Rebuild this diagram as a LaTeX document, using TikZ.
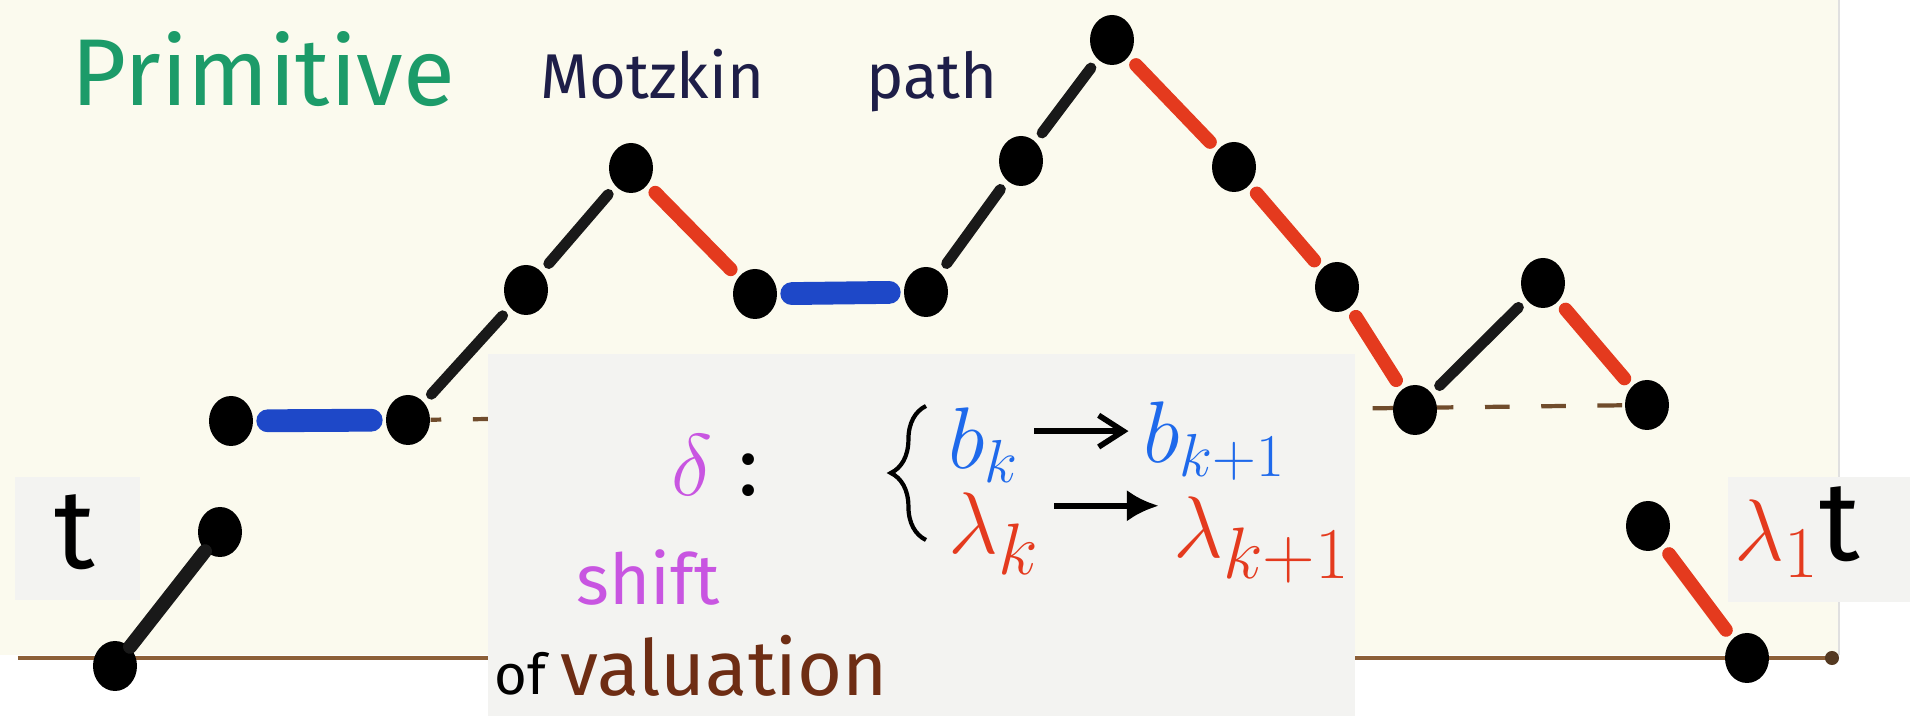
\documentclass[tikz,border=0pt]{standalone}
\usepackage{fontspec}
\setmainfont{Fira Sans}
\usepackage{amsmath}
\usetikzlibrary{arrows.meta,shapes.geometric,decorations.pathreplacing}
\pgfdeclarelayer{background}
\pgfsetlayers{background,main}
\definecolor{paper}{RGB}{251,250,238}
\definecolor{insetgray}{RGB}{243,243,241}
\definecolor{titlegreen}{RGB}{28,155,105}
\definecolor{inknavy}{RGB}{30,30,72}
\definecolor{inkred}{RGB}{228,58,30}
\definecolor{inkblue}{RGB}{30,72,200}
\definecolor{bblue}{RGB}{30,105,235}
\definecolor{inkviolet}{RGB}{200,85,225}
\definecolor{inkbrown}{RGB}{110,45,20}
\definecolor{groundbrown}{RGB}{140,95,55}

\begin{document}
\begin{tikzpicture}[
    pathdot/.style={ellipse, fill=black, inner sep=0pt,
                minimum width=0.44cm, minimum height=0.5cm},
    upstep/.style={draw=black!90, line width=3.1pt, line cap=round,
                shorten >=3pt, shorten <=3pt},
    downstep/.style={draw=inkred, line width=3.9pt, line cap=round,
                shorten >=3pt, shorten <=3pt},
    levelstep/.style={draw=inkblue, line width=6.5pt, line cap=round,
                shorten >=4pt, shorten <=4pt},
    hand/.style={inner sep=1pt},
    shiftarrow/.style={line width=1.6pt, shorten >=3pt, shorten <=3pt}
]
\useasboundingbox (0,0) rectangle (19.1,7.16);

% First and last steps
\node[pathdot] (q0) at (1.15,0.50) {};
\node[pathdot] (q1) at (2.20,1.84) {};
\node[pathdot] (q2) at (16.48,1.90) {};
\node[pathdot] (q3) at (17.47,0.58) {};

% Motzkin path
\node[pathdot] (p1)  at (2.31,2.95) {};
\node[pathdot] (p2)  at (4.08,2.96) {};
\node[pathdot] (p3)  at (5.26,4.26) {};
\node[pathdot] (p4)  at (6.31,5.48) {};
\node[pathdot] (p5)  at (7.55,4.22) {};
\node[pathdot] (p6)  at (9.26,4.24) {};
\node[pathdot] (p7)  at (10.21,5.55) {};
\node[pathdot] (p8)  at (11.12,6.76) {};
\node[pathdot] (p9)  at (12.34,5.49) {};
\node[pathdot] (p10) at (13.37,4.29) {};
\node[pathdot] (p11) at (14.15,3.06) {};
\node[pathdot] (p12) at (15.43,4.33) {};
\node[pathdot] (p13) at (16.47,3.11) {};

\begin{pgfonlayer}{background}
% Paper and pasted pieces
\fill[white] (0,0) rectangle (19.1,7.16);
\fill[paper] (0,0.61) rectangle (18.39,7.16);
\draw[black!12] (18.39,0.61) -- (18.39,7.16);
\fill[insetgray] (0.15,1.16) rectangle (1.40,2.39);
\fill[insetgray] (17.28,1.14) rectangle (19.10,2.39);

% Ground level and level one
\coordinate (g0) at (0.18,0.58);
\coordinate (g1) at (18.32,0.58);
\draw[groundbrown, line width=1.3pt] (g0) -- (g1);
\fill[groundbrown!60!black] (g1) circle (2pt);
\draw[groundbrown!80!black, line width=1.2pt, dash pattern=on 7pt off 9pt,
      dash phase=4pt] (p2) -- (p13);

% Inset sheet
\fill[insetgray] (4.88,0) rectangle (13.55,3.62);
\end{pgfonlayer}

% Steps
\draw[upstep, line width=4pt, shorten >=0pt, shorten <=0pt] (q0) -- (q1);
\draw[levelstep] (p1) -- (p2);
\draw[upstep] (p2) -- (p3);
\draw[upstep] (p3) -- (p4);
\draw[downstep] (p4) -- (p5);
\draw[levelstep] (p5) -- (p6);
\draw[upstep] (p6) -- (p7);
\draw[upstep] (p7) -- (p8);
\draw[downstep] (p8) -- (p9);
\draw[downstep] (p9) -- (p10);
\draw[downstep] (p10) -- (p11);
\draw[upstep] (p11) -- (p12);
\draw[downstep] (p12) -- (p13);
\draw[downstep] (q2) -- (q3);

% Title
\node[hand, anchor=base west, text=titlegreen, font=\fontsize{27}{27}\selectfont]
    (primitive) at (0.67,6.10) {Primitive};
\node[hand, anchor=base west, text=inknavy, font=\fontsize{18}{18}\selectfont]
    (motzkin) at (5.36,6.17) {Motzkin};
\node[hand, anchor=base west, text=inknavy, font=\fontsize{18}{18}\selectfont]
    (pathword) at (8.62,6.17) {path};

% Side labels
\node[hand, font=\fontsize{32}{32}\selectfont] (tleft) at (0.75,1.84) {t};
\node[hand, font=\fontsize{32}{32}\selectfont] (tright) at (17.97,1.84)
    {\textcolor{inkred}{$\lambda_1$}t};

% Shift of valuation
\node[hand, text=inkviolet, font=\fontsize{30}{30}\selectfont] (delta) at (6.92,2.51) {$\delta$};
\node[hand, font=\fontsize{24}{24}\selectfont] (colon) at (7.49,2.41) {:};
\node[hand, text=inkviolet, font=\fontsize{20}{20}\selectfont] (shiftword) at (6.48,1.38) {shift};
\node[hand, font=\fontsize{16}{16}\selectfont] (ofword) at (5.20,0.42) {of};
\node[hand, anchor=base west, text=inkbrown, font=\fontsize{22}{22}\selectfont]
    (valuation) at (5.56,0.20) {valuation};

\draw[decorate, decoration={brace, amplitude=10pt}, line width=1.2pt]
    (9.26,1.76) -- (9.26,3.10);

\node[hand, anchor=base west, text=bblue, font=\fontsize{27}{27}\selectfont]
    (bk) at (9.44,2.47) {$b_k$};
\node[hand, anchor=base west, text=bblue, font=\fontsize{27}{27}\selectfont]
    (bk1) at (11.39,2.53) {$b_{k+1}$};
\node[hand, anchor=base west, text=inkred, font=\fontsize{30}{30}\selectfont]
    (lk) at (9.44,1.62) {$\lambda_k$};
\node[hand, anchor=base west, text=inkred, font=\fontsize{32}{32}\selectfont]
    (lk1) at (11.69,1.58) {$\lambda_{k+1}$};

\draw[shiftarrow, -{Straight Barb[length=7pt, width=9pt]}]
    ([yshift=4pt]bk.east) -- ([yshift=4pt]bk.east -| bk1.west);
\draw[shiftarrow, -{Latex[length=9pt, width=9pt]}]
    ([yshift=8pt]lk.east) -- ([yshift=8pt]lk.east -| lk1.west);

\end{tikzpicture}
\end{document}
